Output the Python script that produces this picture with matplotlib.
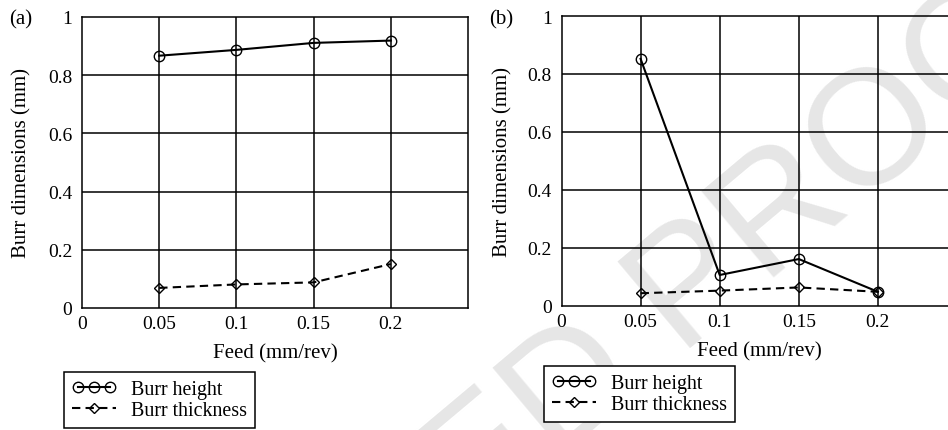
import matplotlib
matplotlib.use("Agg")
import matplotlib.pyplot as plt
from matplotlib.legend_handler import HandlerLine2D

## data
feed = [0.05, 0.1, 0.15, 0.2]
height_a = [0.867, 0.887, 0.911, 0.919]
thick_a = [0.069, 0.081, 0.088, 0.151]
height_b = [0.852, 0.106, 0.161, 0.048]
thick_b = [0.043, 0.052, 0.063, 0.048]

xticks = [0, 0.05, 0.1, 0.15, 0.2]
xticklabels = ['0', '0.05', '0.1', '0.15', '0.2']
yticks = [0, 0.2, 0.4, 0.6, 0.8, 1.0]
yticklabels = ['0', '0.2', '0.4', '0.6', '0.8', '1']

plt.rcParams.update({
    'font.family': 'Liberation Serif',
    'font.size': 14,
    'axes.linewidth': 1.1,
})

W, H = 948, 431
fig = plt.figure(figsize=(W / 100, H / 100), dpi=100)

# watermark behind everything
fig.text(1100 / W, 1 + 50 / H, 'UNCORRECTED PROOF', fontsize=118,
         family='Liberation Sans', color='#e6e6e6', rotation=40,
         rotation_mode='anchor', ha='right', va='center', zorder=-5)


def panel(rect, h, t, tag, tagx, leg_xy, ylab_x):
    ax = fig.add_axes(rect)
    ax.set_facecolor('none')
    ax.set_xlim(0, 0.25)
    ax.set_ylim(0, 1)
    ax.set_xticks(xticks)
    ax.set_xticklabels(xticklabels)
    ax.set_yticks(yticks)
    ax.set_yticklabels(yticklabels)
    ax.tick_params(length=0, labelsize=14)
    ax.tick_params(axis='x', pad=5)
    ax.tick_params(axis='y', pad=7)
    for xv in feed:
        ax.axvline(xv, color='k', lw=1.1, zorder=1)
    for yv in yticks[1:-1]:
        ax.axhline(yv, color='k', lw=1.1, zorder=1)

    l1, = ax.plot(feed, h, color='k', lw=1.5, marker='o', ms=7.5,
                  mfc='none', mec='k', mew=1.0, zorder=3, label='Burr height')
    l2, = ax.plot(feed, t, color='k', lw=1.5, ls=(0, (4, 2.5)), marker='D',
                  ms=5, mfc='none', mec='k', mew=1.0, zorder=3,
                  label='Burr thickness')

    ax.set_xlabel('Feed (mm/rev)', fontsize=15, labelpad=8)
    ax.set_ylabel('Burr dimensions (mm)', fontsize=15)
    ax.yaxis.set_label_coords(ylab_x, 0.5)

    fig.text(tagx / W, 1 - 20 / H, tag, ha='left', va='center', fontsize=15)

    leg = fig.legend(handles=[l1, l2], loc='upper left',
                     bbox_to_anchor=(leg_xy[0] / W, 1 - leg_xy[1] / H),
                     handler_map={l2: HandlerLine2D(numpoints=1)},
                     numpoints=3, handlelength=2.2, handletextpad=0.75,
                     borderpad=0.4, labelspacing=0.08, borderaxespad=0,
                     fontsize=14.4, fancybox=False, frameon=True,
                     edgecolor='k', framealpha=1)
    leg.get_frame().set_linewidth(1.1)
    return ax


panel([82 / W, 1 - 309 / H, 386 / W, 291 / H], height_a, thick_a,
      '(a)', 9, (64, 373), -0.13)
panel([561.5 / W, 1 - 306.7 / H, 395.5 / W, 289.7 / H], height_b, thick_b,
      '(b)', 489, (544, 367), -0.125)

fig.savefig('out.png', dpi=100)
